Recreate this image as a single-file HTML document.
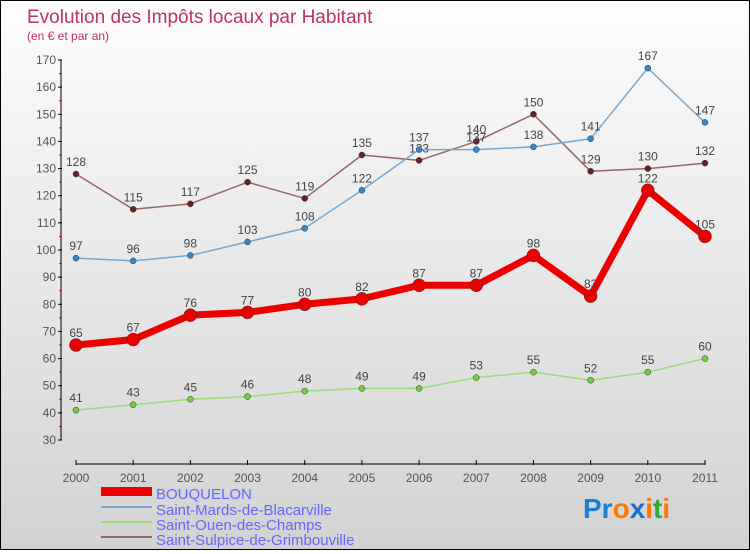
<!DOCTYPE html>
<html><head><meta charset="utf-8"><style>
body{margin:0;width:750px;height:550px;overflow:hidden;font-family:"Liberation Sans",sans-serif}
#wrap{position:relative;width:748px;height:548px;border:1px solid #000;background:linear-gradient(#fdfdfd,#d2d2d2)}
</style></head><body>
<div id="wrap">
<svg id="c" width="748" height="548" font-family="Liberation Sans, sans-serif">
<text x="26" y="22" font-size="19" fill="#c0335f">Evolution des Impôts locaux par Habitant</text>
<text x="26" y="39" font-size="12" fill="#c0335f">(en € et par an)</text>
<g id="axes"></g><g id="series"></g>
<g font-size="15" fill="#6666ff">
<rect x="100" y="486" width="51" height="9" fill="#ee0000"/>
<text x="155" y="498">BOUQUELON</text>
<rect x="100" y="505" width="51" height="2" fill="#7aa7cc"/>
<text x="155" y="514">Saint-Mards-de-Blacarville</text>
<rect x="100" y="520" width="51" height="2" fill="#99dd77"/>
<text x="155" y="529">Saint-Ouen-des-Champs</text>
<rect x="100" y="535" width="51" height="2" fill="#996666"/>
<text x="155" y="544">Saint-Sulpice-de-Grimbouville</text>
</g>
<g font-size="28" font-weight="bold">
<text x="582" y="517"><tspan fill="#1a7fd0">Pr</tspan><tspan fill="#ff7700">o</tspan><tspan fill="#1a6fd0">x</tspan><tspan fill="#ff7700">i</tspan><tspan fill="#33aa33">t</tspan><tspan fill="#ff7700">i</tspan></text>
</g>
</svg></div>
<script>
const years=["2000","2001","2002","2003","2004","2005","2006","2007","2008","2009","2010","2011"];
const yTicks=[30,40,50,60,70,80,90,100,110,120,130,140,150,160,170];
const bouquelon=[65,67,76,77,80,82,87,87,98,83,122,105];
const blacarville=[97,96,98,103,108,122,137,137,138,141,167,147];
const ouen=[41,43,45,46,48,49,49,53,55,52,55,60];
const sulpice=[128,115,117,125,119,135,133,140,150,129,130,132];
const NS="http://www.w3.org/2000/svg";
const X=i=>75+i*(629/11);
const Y=v=>439-(v-30)*(380/140);
function mk(t,a,p){const e=document.createElementNS(NS,t);for(const k in a)e.setAttribute(k,a[k]);p.appendChild(e);return e;}
const ax=document.getElementById('axes');
let l=mk('line',{x1:60,y1:Y(170),x2:60,y2:Y(30),stroke:'#000'},ax);

yTicks.forEach(v=>{mk('line',{x1:57,x2:61,y1:Y(v),y2:Y(v),stroke:'#000'},ax);
 const t=mk('text',{x:55,y:Y(v)+4,'text-anchor':'end','font-size':12,fill:'#555'},ax);t.textContent=v;
 
 if(v<170)mk('line',{x1:58,x2:61,y1:Y(v+5),y2:Y(v+5),stroke:'#e00'},ax);});
l=mk('line',{x1:X(0),x2:X(11),y1:463,y2:463,stroke:'#000'},ax);

years.forEach((y,i)=>{mk('line',{x1:X(i),x2:X(i),y1:459,y2:464,stroke:'#000'},ax);
 const t=mk('text',{x:X(i),y:481,'text-anchor':'middle','font-size':12,fill:'#555'},ax);t.textContent=y;
 });
const sg=document.getElementById('series');
function draw(data,name,color,w,r,dot){
 const g=mk('g',{},sg);
 mk('polyline',{points:data.map((v,i)=>X(i)+','+Y(v)).join(' '),fill:'none',stroke:color,'stroke-width':w,'stroke-linejoin':'round'},g);
 data.forEach((v,i)=>{const c=mk('circle',{cx:X(i),cy:Y(v),r:r,fill:dot,stroke:'#333','stroke-width':0.5},g);
  
  const t=mk('text',{x:X(i),y:Y(v)-8,'text-anchor':'middle','font-size':12,fill:'#444'},g);t.textContent=v;
  });
}
draw(ouen,'ouen','#99dd77',1.5,3,'#77cc44');
draw(sulpice,'sulpice','#996666',1.5,3,'#662222');
draw(blacarville,'blacarville','#7aa7cc',1.5,3,'#3388cc');
draw(bouquelon,'bouquelon','#ee0000',7,6.5,'#ee0000');
</script>
</body></html>
